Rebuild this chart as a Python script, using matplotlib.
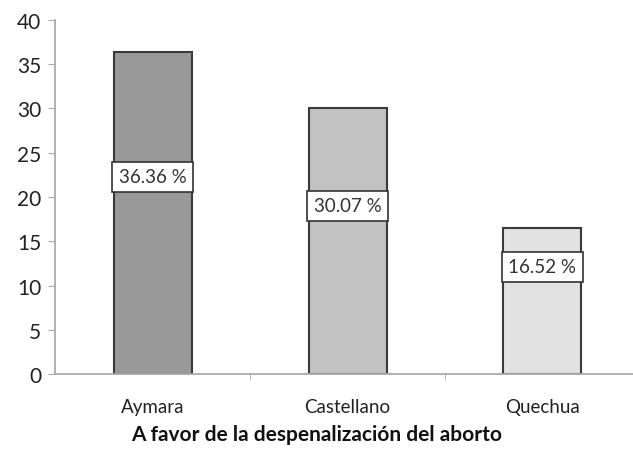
import numpy as np
import matplotlib.pyplot as plt

categories = ["Aymara", "Castellano", "Quechua"]
values = [36.36, 30.07, 16.52]
labels = ["36.36 %", "30.07 %", "16.52 %"]
label_y = [22.3, 19.0, 12.1]
colors = ["#999999", "#c2c2c2", "#e2e2e2"]
yticks = [0, 5, 10, 15, 20, 25, 30, 35, 40]

plt.rcParams['font.family'] = ['Lato', 'DejaVu Sans']

fig = plt.figure(figsize=(6.33, 4.52), dpi=100)
ax = fig.add_axes([0.087, 0.17, 0.924, 0.784])

x = np.arange(len(categories))
ax.bar(x, values, width=0.4, color=colors, edgecolor="#3a3a3a", linewidth=1.5)

for xi, ly, lab in zip(x, label_y, labels):
    ax.text(xi, ly, lab, ha="center", va="center", fontsize=13.5, color="#333333",
            bbox=dict(boxstyle="square,pad=0.35", facecolor="white", edgecolor="#333333", linewidth=1.2))

ax.set_xlim(-0.5, 2.5)
ax.set_ylim(0, 40)
ax.set_yticks(yticks)
ax.set_xticks(x)
ax.set_xticklabels(categories, fontsize=13.5, color="#222222")
ax.set_xticks([0.5, 1.5, 2.5], minor=True)
ax.tick_params(axis="x", which="major", length=0, pad=17)
ax.tick_params(axis="x", which="minor", length=4, color="#aaaaaa", direction="out")
ax.tick_params(axis="y", length=5, color="#aaaaaa", labelsize=15, labelcolor="#222222", pad=5)

for s in ["top", "right"]:
    ax.spines[s].set_visible(False)
ax.spines["left"].set_color("#aaaaaa")
ax.spines["bottom"].set_color("#aaaaaa")
ax.spines["left"].set_linewidth(1.3)
ax.spines["bottom"].set_linewidth(1.3)

ax.set_xlabel("A favor de la despenalización del aborto", fontsize=15, fontweight="bold",
              color="#111111")
ax.xaxis.set_label_coords(0.447, -0.142)

fig.savefig("out.png", dpi=100)
